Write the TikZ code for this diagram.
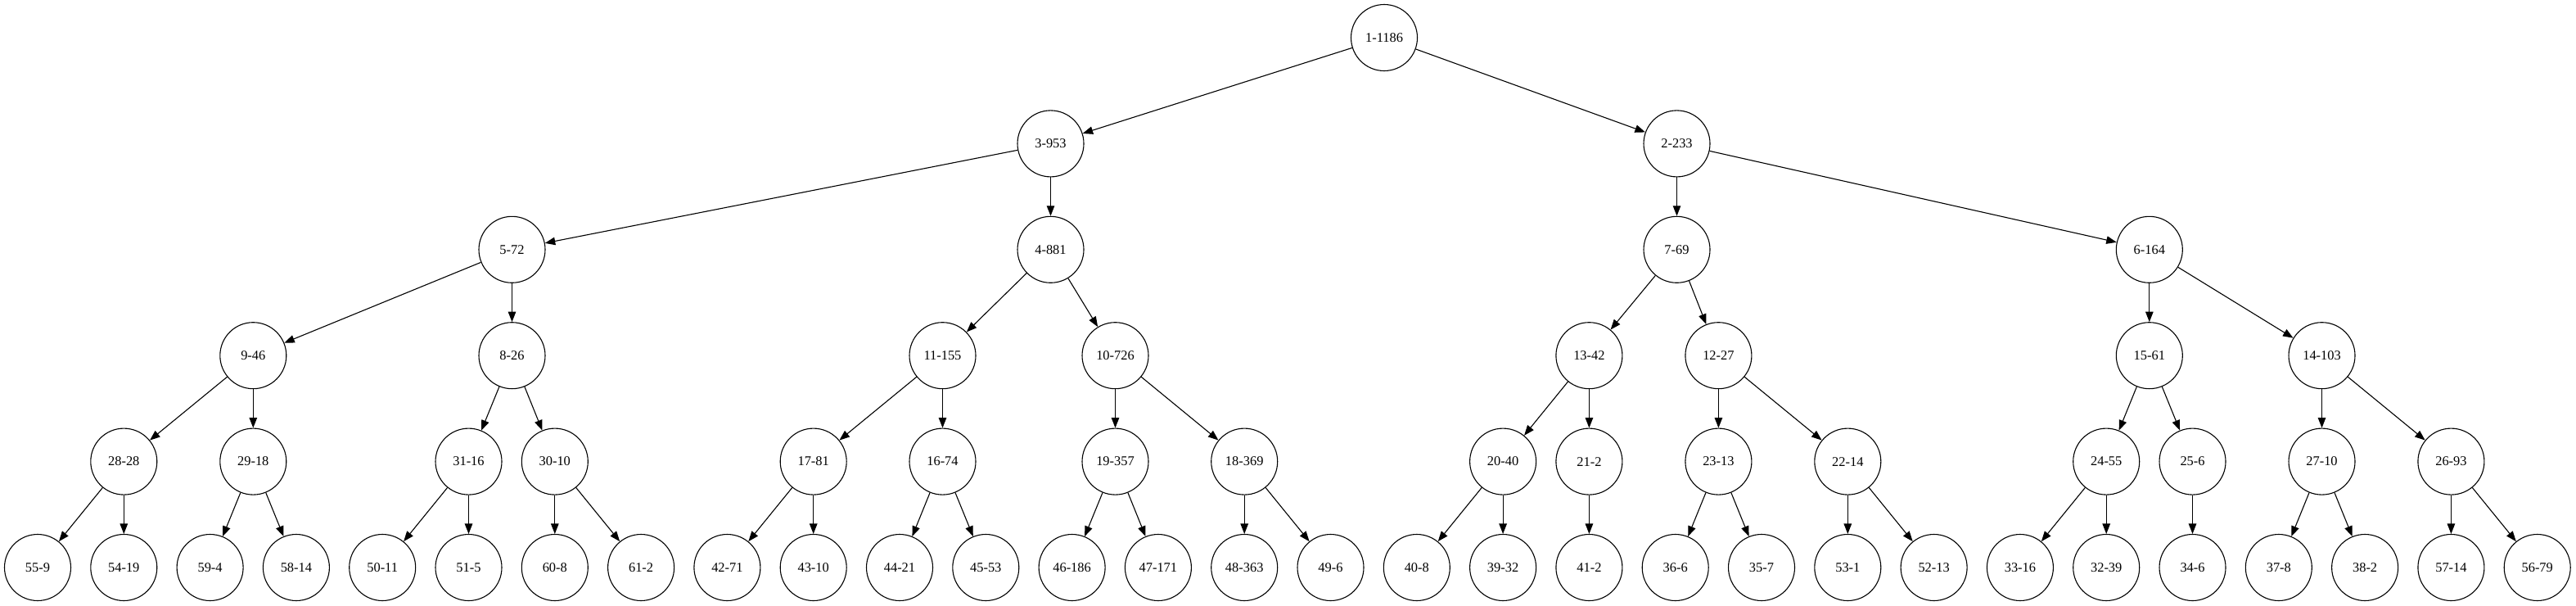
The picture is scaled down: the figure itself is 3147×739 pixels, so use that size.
\documentclass[tikz,border=0pt]{standalone}
\usepackage{fontspec}
\setmainfont{Liberation Serif}
\usepackage{tikz}
\usetikzlibrary{arrows.meta}

\begin{document}
\begin{tikzpicture}[
                x=1pt,y=1pt,
                >={Triangle[length=12.5pt,width=9.5pt]},
                line width=1.1pt,
                every node/.append style={circle,draw,inner sep=0pt,minimum size=81pt,
                    font=\fontsize{16.4}{19.7}\selectfont}
            ]
                \useasboundingbox (0,0) rectangle (3147,-739);
                % level 0 and 1
                \node (n1)  at (1691,-46)      {1-1186};
                \node (n3)  at (1283.5,-175.4) {3-953};
                \node (n2)  at (2048.5,-175.4) {2-233};
                % level 2
                \node (n5)  at (625.5,-304.8)  {5-72};
                \node (n4)  at (1283.5,-304.8) {4-881};
                \node (n7)  at (2048.5,-304.8) {7-69};
                \node (n6)  at (2625.8,-304.8) {6-164};
                % level 3
                \node (n9)  at (309.3,-434.2)  {9-46};
                \node (n8)  at (625.5,-434.2)  {8-26};
                \node (n11) at (1151.5,-434.2) {11-155};
                \node (n10) at (1362.5,-434.2) {10-726};
                \node (n13) at (1941.4,-434.2) {13-42};
                \node (n12) at (2099.4,-434.2) {12-27};
                \node (n15) at (2625.8,-434.2) {15-61};
                \node (n14) at (2836.5,-434.2) {14-103};
                % level 4
                \node (n28) at (151.3,-563.6)  {28-28};
                \node (n29) at (309.3,-563.6)  {29-18};
                \node (n31) at (572.5,-563.6)  {31-16};
                \node (n30) at (677.8,-563.6)  {30-10};
                \node (n17) at (993.7,-563.6)  {17-81};
                \node (n16) at (1151.5,-563.6) {16-74};
                \node (n19) at (1362.5,-563.6) {19-357};
                \node (n18) at (1520.2,-563.6) {18-369};
                \node (n20) at (1836.1,-563.6) {20-40};
                \node (n21) at (1941.4,-563.6) {21-2};
                \node (n23) at (2099.4,-563.6) {23-13};
                \node (n22) at (2257.3,-563.6) {22-14};
                \node (n24) at (2573.2,-563.6) {24-55};
                \node (n25) at (2678.5,-563.6) {25-6};
                \node (n27) at (2836.5,-563.6) {27-10};
                \node (n26) at (2994.4,-563.6) {26-93};
                % leaves
                \node (n55) at (46,-693)     {55-9};
                \node (n54) at (151.3,-693)  {54-19};
                \node (n59) at (256.6,-693)  {59-4};
                \node (n58) at (361.9,-693)  {58-14};
                \node (n50) at (467.2,-693)  {50-11};
                \node (n51) at (572.5,-693)  {51-5};
                \node (n60) at (677.8,-693)  {60-8};
                \node (n61) at (783.1,-693)  {61-2};
                \node (n42) at (888.4,-693)  {42-71};
                \node (n43) at (993.7,-693)  {43-10};
                \node (n44) at (1099,-693)   {44-21};
                \node (n45) at (1204.3,-693) {45-53};
                \node (n46) at (1309.6,-693) {46-186};
                \node (n47) at (1414.9,-693) {47-171};
                \node (n48) at (1520.2,-693) {48-363};
                \node (n49) at (1625.5,-693) {49-6};
                \node (n40) at (1730.8,-693) {40-8};
                \node (n39) at (1836.1,-693) {39-32};
                \node (n41) at (1941.4,-693) {41-2};
                \node (n36) at (2046.7,-693) {36-6};
                \node (n35) at (2152,-693)   {35-7};
                \node (n53) at (2257.3,-693) {53-1};
                \node (n52) at (2362.6,-693) {52-13};
                \node (n33) at (2467.9,-693) {33-16};
                \node (n32) at (2573.2,-693) {32-39};
                \node (n34) at (2678.5,-693) {34-6};
                \node (n37) at (2783.8,-693) {37-8};
                \node (n38) at (2889.1,-693) {38-2};
                \node (n57) at (2994.4,-693) {57-14};
                \node (n56) at (3099.7,-693) {56-79};
                % edges
                \draw[->] (n1) edge (n3) edge (n2);
                \draw[->] (n3) edge (n5) edge (n4);
                \draw[->] (n2) edge (n7) edge (n6);
                \draw[->] (n5) edge (n9) edge (n8);
                \draw[->] (n4) edge (n11) edge (n10);
                \draw[->] (n7) edge (n13) edge (n12);
                \draw[->] (n6) edge (n15) edge (n14);
                \draw[->] (n9) edge (n28) edge (n29);
                \draw[->] (n8) edge (n31) edge (n30);
                \draw[->] (n11) edge (n17) edge (n16);
                \draw[->] (n10) edge (n19) edge (n18);
                \draw[->] (n13) edge (n20) edge (n21);
                \draw[->] (n12) edge (n23) edge (n22);
                \draw[->] (n15) edge (n24) edge (n25);
                \draw[->] (n14) edge (n27) edge (n26);
                \draw[->] (n28) edge (n55) edge (n54);
                \draw[->] (n29) edge (n59) edge (n58);
                \draw[->] (n31) edge (n50) edge (n51);
                \draw[->] (n30) edge (n60) edge (n61);
                \draw[->] (n17) edge (n42) edge (n43);
                \draw[->] (n16) edge (n44) edge (n45);
                \draw[->] (n19) edge (n46) edge (n47);
                \draw[->] (n18) edge (n48) edge (n49);
                \draw[->] (n20) edge (n40) edge (n39);
                \draw[->] (n21) edge (n41);
                \draw[->] (n23) edge (n36) edge (n35);
                \draw[->] (n22) edge (n53) edge (n52);
                \draw[->] (n24) edge (n33) edge (n32);
                \draw[->] (n25) edge (n34);
                \draw[->] (n27) edge (n37) edge (n38);
                \draw[->] (n26) edge (n57) edge (n56);
            \end{tikzpicture}
\end{document}
